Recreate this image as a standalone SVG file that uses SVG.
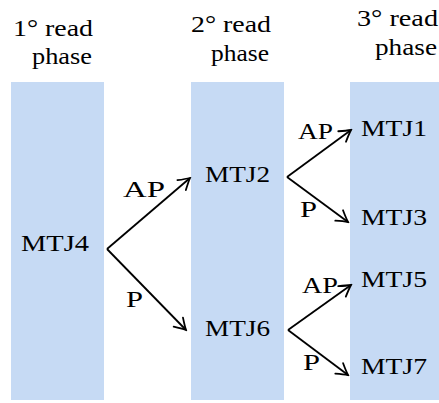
<svg xmlns="http://www.w3.org/2000/svg" width="439" height="403" viewBox="0 0 439 403">
<style>
.phase{fill:#c6daf4}
.arr{stroke:#000;stroke-width:1.8;fill:none;marker-end:url(#ah)}
</style>
<defs>
<marker id="ah" markerUnits="userSpaceOnUse" viewBox="-13 -8 15 16" refX="0" refY="0" markerWidth="15" markerHeight="16" orient="auto">
<path d="M -11 -6.5 Q -4 -2 0 0 Q -4 2 -11 6.5" stroke="#000" stroke-width="1.8" fill="none" stroke-linecap="round"/>
</marker>
</defs>
<rect width="439" height="403" fill="#fff"/>
<g font-family="'Liberation Serif', 'DejaVu Serif', serif" font-size="24" fill="#000">
<g id="col1">
<rect class="phase" x="11" y="82" width="93" height="318"/>
<text x="13" y="36" textLength="80" lengthAdjust="spacingAndGlyphs">1° read</text>
<text x="32" y="64" textLength="60" lengthAdjust="spacingAndGlyphs">phase</text>
</g>
<g id="col2">
<rect class="phase" x="191" y="82" width="93" height="318"/>
<text x="191" y="32" textLength="80" lengthAdjust="spacingAndGlyphs">2° read</text>
<text x="211" y="61" textLength="58" lengthAdjust="spacingAndGlyphs">phase</text>
</g>
<g id="col3">
<rect class="phase" x="350" y="82" width="89" height="318"/>
<text x="357" y="26" textLength="81" lengthAdjust="spacingAndGlyphs">3° read</text>
<text x="375" y="55" textLength="62" lengthAdjust="spacingAndGlyphs">phase</text>
</g>
<g id="MTJ4"><text x="21" y="251" textLength="68" lengthAdjust="spacingAndGlyphs">MTJ4</text></g>
<g id="MTJ2"><text x="205" y="182" textLength="65" lengthAdjust="spacingAndGlyphs">MTJ2</text></g>
<g id="MTJ6"><text x="205" y="336" textLength="65" lengthAdjust="spacingAndGlyphs">MTJ6</text></g>
<g id="MTJ1"><text x="361" y="136" textLength="66" lengthAdjust="spacingAndGlyphs">MTJ1</text></g>
<g id="MTJ3"><text x="361" y="225" textLength="66" lengthAdjust="spacingAndGlyphs">MTJ3</text></g>
<g id="MTJ5"><text x="361" y="287" textLength="66" lengthAdjust="spacingAndGlyphs">MTJ5</text></g>
<g id="MTJ7"><text x="361" y="374" textLength="66" lengthAdjust="spacingAndGlyphs">MTJ7</text></g>
<g id="connectors">
<line class="arr" x1="107" y1="249" x2="190" y2="178"/>
<line class="arr" x1="107" y1="249" x2="186" y2="330"/>
<line class="arr" x1="287" y1="177" x2="351" y2="130"/>
<line class="arr" x1="287" y1="177" x2="348" y2="222"/>
<line class="arr" x1="288" y1="330" x2="351" y2="285"/>
<line class="arr" x1="288" y1="330" x2="348" y2="375"/>
<text x="123" y="197" textLength="42" lengthAdjust="spacingAndGlyphs">AP</text>
<text x="126" y="307" textLength="17" lengthAdjust="spacingAndGlyphs">P</text>
<text x="298" y="139" textLength="35" lengthAdjust="spacingAndGlyphs">AP</text>
<text x="300" y="217" textLength="17" lengthAdjust="spacingAndGlyphs">P</text>
<text x="302" y="293" textLength="36" lengthAdjust="spacingAndGlyphs">AP</text>
<text x="303" y="370" textLength="17" lengthAdjust="spacingAndGlyphs">P</text>
</g>
</g>
</svg>
